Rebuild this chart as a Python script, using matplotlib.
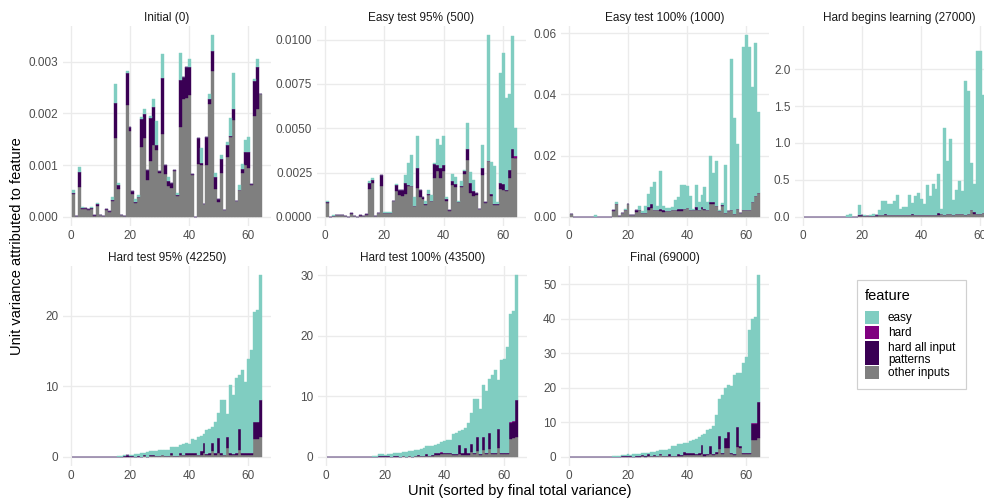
import numpy as np
import matplotlib
matplotlib.use("Agg")
import matplotlib.pyplot as plt
from matplotlib.patches import Rectangle

plt.rcParams['font.family'] = ['Liberation Sans', 'DejaVu Sans']

W, H = 984, 501
units = np.arange(1, 65)

feature_names = ['easy', 'hard', 'hard all input\npatterns', 'other inputs']
feature_colors = ['#80CDC1', '#800080', '#3A0054', '#7F7F7F']

# ---- Initial (0), values in 1e-3
init_other = [0.44, 0.02, 0.58, 0.16, 0.16, 0.13, 0.15, 0.02, 0.22, 0.03, 0.01, 0.13, 0.09, 0.31, 1.52, 0.53,
              0.04, 0.01, 2.16, 1.66, 0.45, 0.27, 0.39, 1.35, 1.52, 0.71, 1.07, 1.38, 1.29, 0.85, 1.60, 0.82,
              0.60, 0.55, 0.88, 0.40, 1.73, 2.27, 2.29, 2.36, 0.80, 0.005, 1.02, 1.00, 0.24, 1.01, 2.18, 2.81,
              0.54, 0.29, 0.84, 0.13, 1.16, 1.54, 1.87, 0.31, 0.51, 0.84, 1.00, 0.95, 0.61, 1.95, 2.09, 2.37]
init_hall = [0.03, 0, 0.29, 0.02, 0.02, 0.02, 0.02, 0.02, 0.02, 0, 0, 0.03, 0.02, 0.02, 0.67, 0.08,
             0, 0, 0.61, 0.07, 0.05, 0.02, 0, 0.54, 0.46, 0.19, 0.83, 0.74, 0.10, 0.03, 1.09, 0.18,
             0.09, 0.10, 0.03, 0.03, 0.92, 0.44, 0.60, 0.53, 0.03, 0, 0.51, 0.05, 0, 0.53, 0.10, 0.40,
             0.23, 0.05, 0.28, 0.01, 0.23, 0.03, 0.21, 0, 0.01, 0.09, 0.25, 0.30, 0.03, 0.67, 0.80, 0.01]
init_hard = [0] * 64
init_easy = [0.04, 0, 0.10, 0.01, 0, 0.01, 0.02, 0, 0.02, 0, 0, 0, 0, 0.06, 0.38, 0.05,
             0, 0, 0.04, 0, 0, 0.06, 0.04, 0.03, 0.10, 0.01, 0.04, 0.15, 0.46, 0, 0.46, 0,
             0.08, 0, 0, 0.03, 0.52, 0, 0, 0.15, 0, 0, 0, 0.28, 0.01, 0, 0.09, 0.30,
             0.08, 0, 0.08, 0, 0.06, 0.33, 0.69, 0, 0.10, 0.10, 0.23, 0.30, 0, 0.05, 0.15, 0]

# ---- Easy test 95% (500), values in 1e-3
e95_other = [0.76, 0.02, 0.06, 0.10, 0.08, 0.10, 0.06, 0.02, 0.16, 0.03, 0.02, 0.04, 0.05, 0.12, 1.55, 1.90,
             0.05, 0.20, 1.72, 0.20, 0.20, 0.20, 0.90, 1.45, 1.25, 1.20, 1.30, 1.75, 1.75, 0.60, 1.65, 1.12,
             0.99, 0.66, 1.24, 0.90, 2.21, 2.58, 2.21, 2.58, 0.90, 0.34, 1.80, 1.69, 0.82, 1.69, 2.40, 3.20,
             1.37, 1.18, 1.24, 0.43, 2.34, 0.80, 3.15, 1.18, 0.66, 0.66, 1.55, 1.50, 1.45, 2.20, 3.33, 3.33]
e95_hall = [0.06, 0, 0, 0, 0, 0, 0, 0, 0.08, 0, 0, 0.06, 0, 0.06, 0.35, 0.20,
            0, 0, 0.65, 0, 0, 0, 0, 0.35, 0.28, 0.30, 0.60, 0.05, 0.02, 0, 1.12, 0.37,
            0.15, 0.05, 0.07, 0, 0.75, 0.37, 0.56, 0.37, 0.10, 0.04, 0.22, 0.19, 0, 0.07, 0.19, 0.64,
            0.56, 0.28, 0.13, 0.04, 0.43, 0.06, 0, 0.09, 0.09, 0.09, 0.37, 0.35, 0.05, 0.45, 0.50, 0]
e95_hard = [0] * 40 + [0.02] + [0] * 22 + [0.08]
e95_easy = [0.06, 0, 0.03, 0.02, 0, 0, 0, 0, 0, 0, 0, 0, 0, 0, 0.15, 0.10,
            0, 0, 0, 0.05, 0.05, 0.05, 0, 0.08, 0, 0, 0.45, 1.25, 1.70, 0.50, 1.78, 0,
            0, 0.17, 0.19, 0.35, 0.10, 1.44, 1.31, 1.61, 0.10, 0, 0.41, 0.39, 0.06, 0.28, 0.04, 1.46,
            0.60, 0.62, 0, 0, 1.31, 0, 7.10, 1.84, 2.10, 0.10, 6.20, 7.40, 5.20, 4.30, 6.36, 1.60]

# ---- Easy test 100% (1000), values in 1e-2
e100_other = [0.08, 0.005, 0.005, 0.005, 0.005, 0.005, 0.005, 0.005, 0.01, 0.005, 0.005, 0.005, 0.005, 0.005, 0.18, 0.43,
              0.03, 0.13, 0.24, 0.41, 0.05, 0.05, 0.17, 0.22, 0.13, 0.13, 0.22, 0.29, 0.22, 0.24, 0.20, 0.17,
              0.20, 0.20, 0.22, 0.24, 0.20, 0.18, 0.26, 0.29, 0.24, 0.22, 0.24, 0.22, 0.26, 0.22, 0.24, 0.43,
              0.43, 0.35, 0.20, 0.35, 0.13, 0.20, 0.24, 0.11, 0.26, 0.13, 0.22, 0.24, 0.22, 0.50, 0.67, 0.78]
e100_hall = [0.03, 0, 0, 0, 0, 0, 0, 0, 0, 0, 0, 0, 0, 0, 0.03, 0,
             0, 0, 0, 0, 0, 0, 0.04, 0.02, 0, 0, 0.11, 0.12, 0.02, 0, 0.07, 0.07,
             0, 0, 0, 0, 0.06, 0.08, 0, 0, 0, 0, 0.07, 0, 0.07, 0.04, 0, 0.07,
             0.07, 0, 0, 0.03, 0, 0, 0, 0, 0, 0, 0, 0, 0, 0, 0, 0]
e100_hard = [0] * 64
e100_easy = [0, 0, 0, 0, 0, 0, 0, 0, 0.05, 0, 0, 0, 0, 0, 0, 0.05,
             0, 0, 0.03, 0, 0, 0, 0, 0.11, 0.05, 0.24, 0.42, 0.57, 0.89, 0.13, 1.22, 0.13,
             0.10, 0.09, 0.10, 0.32, 0.39, 0.78, 0.79, 0.73, 0.43, 0.04, 0.73, 0.26, 0.40, 0.72, 0.24, 1.50,
             0.92, 1.48, 0.02, 0.08, 1.55, 0, 4.91, 3.11, 2.13, 0, 5.33, 5.70, 5.33, 3.74, 5.02, 2.66]

# ---- Hard begins learning (27000)
hb_other = [0.005, 0.005, 0.005, 0.005, 0.005, 0.005, 0.005, 0.005, 0.005, 0.005, 0.005, 0.005, 0.005, 0.005, 0.005, 0.005,
            0.005, 0.005, 0.01, 0.01, 0.01, 0.01, 0.01, 0.01, 0.01, 0.02, 0.02, 0.02, 0.02, 0.02, 0.02, 0.02,
            0.02, 0.02, 0.02, 0.02, 0.02, 0.03, 0.02, 0.03, 0.02, 0.03, 0.03, 0.02, 0.03, 0.03, 0.04, 0.03,
            0.04, 0.04, 0.03, 0.04, 0.04, 0.04, 0.03, 0.04, 0.09, 0.04, 0.04, 0.04, 0.05, 0.05, 0.06, 0.06]
hb_hall = [0, 0, 0, 0, 0, 0, 0, 0, 0, 0, 0, 0, 0, 0, 0, 0,
           0, 0, 0.02, 0.02, 0, 0, 0, 0, 0.02, 0, 0, 0.02, 0, 0, 0, 0,
           0, 0, 0, 0, 0.02, 0, 0, 0, 0, 0, 0, 0, 0, 0.02, 0, 0,
           0, 0, 0, 0, 0, 0, 0, 0, 0, 0.02, 0, 0, 0, 0, 0, 0]
hb_hard = [0] * 64
hb_easy = [0, 0, 0, 0, 0, 0, 0, 0, 0, 0, 0, 0, 0, 0, 0.02, 0.04,
           0, 0, 0.13, 0, 0.01, 0, 0.02, 0.03, 0, 0.08, 0.19, 0.17, 0.15, 0.15, 0.19, 0.28,
           0.09, 0.11, 0.12, 0.28, 0.15, 0.25, 0.30, 0.21, 0.15, 0.40, 0.25, 0.42, 0.35, 0.53, 0.07, 1.17,
           0.71, 1.02, 0.20, 0.32, 0.45, 0.31, 1.81, 1.67, 0.64, 0.38, 2.20, 2.20, 1.60, 1.00, 2.40, 1.30]

# ---- Hard test 95% (42250)
h95_other = [0.02, 0.02, 0.02, 0.02, 0.02, 0.02, 0.02, 0.02, 0.02, 0.02, 0.02, 0.02, 0.02, 0.02, 0.02, 0.02,
             0.02, 0.05, 0.05, 0.05, 0.05, 0.05, 0.05, 0.05, 0.1, 0.05, 0.1, 0.1, 0.1, 0.1, 0.3, 0.1,
             0.1, 0.2, 0.1, 0.1, 0.3, 0.2, 0.3, 0.3, 0.3, 0.3, 0.2, 0.3, 0.5, 0.2, 0.3, 0.8,
             0.3, 0.5, 0.3, 0.2, 1.3, 0.3, 0.2, 0.3, 1.0, 0.3, 0.3, 0.3, 0.3, 2.5, 2.6, 2.8]
h95_hall = [0, 0, 0, 0, 0, 0, 0, 0, 0, 0, 0, 0, 0, 0, 0, 0,
            0, 0.1, 0.15, 0.1, 0.05, 0, 0.1, 0, 0.1, 0, 0.2, 0.15, 0, 0, 0, 0,
            0, 0.3, 0, 0, 0.3, 0.1, 0.3, 0.2, 0.3, 0.2, 0.1, 0.5, 1.5, 0.2, 0.2, 1.2,
            0.3, 2.2, 0.2, 0.1, 1.5, 0.3, 0.2, 0.2, 2.9, 0.3, 0.2, 0.3, 0.3, 2.4, 2.3, 5.3]
h95_hard = [0] * 46 + [0.1] + [0] * 14 + [0.1, 0, 0]
h95_easy = [0, 0, 0, 0, 0, 0, 0, 0, 0, 0, 0, 0, 0, 0, 0, 0.17,
            0.12, 0.05, 0.08, 0.09, 0.14, 0.37, 0.27, 0.47, 0.37, 0.66, 0.55, 0.6, 0.8, 0.84, 0.64, 0.89,
            0.89, 0.91, 1.31, 1.35, 1.15, 1.59, 1.43, 1.39, 1.95, 1.95, 2.48, 2.12, 1.3, 3.4, 3.3, 2.3,
            4.4, 3.5, 7.6, 7.8, 3.3, 9.6, 8.4, 10.7, 7.7, 11.8, 10.2, 13.3, 14.6, 15.5, 15.9, 17.7]

# ---- Hard test 100% (43500)
h100_other = [0.03, 0.03, 0.03, 0.03, 0.03, 0.03, 0.03, 0.03, 0.03, 0.03, 0.03, 0.03, 0.03, 0.03, 0.03, 0.03,
              0.03, 0.05, 0.05, 0.05, 0.05, 0.05, 0.05, 0.05, 0.05, 0.1, 0.05, 0.1, 0.05, 0.1, 0.2, 0.1,
              0.2, 0.2, 0.2, 0.2, 0.3, 0.3, 0.4, 0.4, 0.4, 0.4, 0.3, 0.3, 0.5, 0.3, 0.3, 0.3,
              0.8, 0.4, 1.0, 0.3, 1.1, 0.4, 1.3, 0.4, 0.4, 1.5, 0.4, 0.4, 0.4, 3.0, 3.1, 3.3]
h100_hall = [0, 0, 0, 0, 0, 0, 0, 0, 0, 0, 0, 0, 0, 0, 0, 0,
             0, 0.1, 0.1, 0.05, 0.1, 0, 0.1, 0.1, 0, 0.1, 0, 0.1, 0, 0, 0.1, 0,
             0, 0.3, 0, 0.1, 0.3, 0.3, 0.3, 0.3, 0.2, 0.3, 0.2, 0.1, 1.5, 0.3, 1.2, 0.3,
             1.4, 0.3, 2.3, 0.2, 2.2, 0.3, 2.7, 0.3, 0.3, 3.1, 0.3, 0.3, 0.3, 2.6, 2.6, 6.1]
h100_hard = [0] * 36 + [0.05, 0, 0.05] + [0] * 22 + [0.2, 0.2, 0]
h100_easy = [0, 0, 0, 0, 0, 0, 0, 0, 0, 0, 0, 0, 0, 0, 0.02, 0.17,
             0.17, 0.25, 0.25, 0.23, 0.4, 0.5, 0.45, 0.5, 0.65, 0.6, 0.8, 0.7, 0.88, 1.0, 0.8, 1.2,
             1.3, 1.25, 1.55, 1.45, 1.25, 1.6, 1.75, 2.0, 2.25, 2.15, 3.2, 3.6, 2.2, 3.9, 3.25, 5.0,
             5.0, 8.9, 6.3, 7.4, 8.6, 10.1, 8.8, 12.8, 13.6, 8.1, 15.3, 15.5, 17.4, 17.7, 18.1, 20.6]

# ---- Final (69000)
fin_other = [0.1, 0.1, 0.1, 0.1, 0.1, 0.1, 0.1, 0.1, 0.1, 0.1, 0.1, 0.1, 0.1, 0.1, 0.1, 0.1,
             0.1, 0.1, 0.1, 0.1, 0.1, 0.1, 0.1, 0.1, 0.2, 0.1, 0.2, 0.2, 0.2, 0.2, 0.5, 0.2,
             0.3, 0.3, 0.2, 0.3, 0.4, 0.3, 0.6, 0.5, 0.6, 0.5, 0.6, 0.6, 0.8, 0.4, 0.5, 0.9,
             0.5, 0.8, 2.2, 0.8, 2.5, 2.5, 0.8, 0.6, 3.0, 2.5, 0.8, 0.8, 0.8, 4.8, 5.0, 5.5]
fin_hall = [0, 0, 0, 0, 0, 0, 0, 0, 0, 0, 0, 0, 0, 0, 0, 0,
            0, 0.3, 0.3, 0.3, 0.3, 0, 0.2, 0.3, 0.3, 0.3, 0.5, 0.2, 0.3, 0, 0.2, 0,
            0, 0.5, 0.1, 0, 0.3, 0.3, 0.7, 0.6, 0.6, 0.5, 0.2, 0.6, 2.6, 0.3, 0.3, 2.3,
            0.3, 0.5, 3.8, 0.3, 3.0, 4.6, 0.3, 0.3, 5.7, 0.8, 0.3, 0.3, 0.3, 4.7, 4.6, 10.3]
fin_hard = [0] * 24 + [0.1] + [0] * 36 + [0.3, 0.2, 0]
fin_easy = [0, 0, 0, 0, 0, 0, 0, 0, 0, 0, 0, 0, 0, 0, 0.2, 0.3,
            0.3, 0.1, 0.2, 0.3, 0.27, 0.67, 0.5, 0.56, 0.5, 0.75, 0.45, 1.0, 0.9, 1.4, 1.2, 1.7,
            1.8, 1.6, 2.8, 3.0, 2.9, 3.2, 2.7, 2.9, 3.3, 3.8, 4.5, 4.6, 3.0, 6.0, 6.9, 4.9,
            8.0, 10.9, 10.7, 16.9, 14.4, 13.6, 19.3, 22.9, 15.5, 21.1, 26.0, 27.7, 35.6, 30.2, 30.6, 36.8]

panel_titles = ['Initial (0)', 'Easy test 95% (500)', 'Easy test 100% (1000)', 'Hard begins learning (27000)',
                'Hard test 95% (42250)', 'Hard test 100% (43500)', 'Final (69000)']
panel_scales = [1e-3, 1e-3, 1e-2, 1, 1, 1, 1]
panel_ticks = [[0, 0.001, 0.002, 0.003], [0, 0.0025, 0.005, 0.0075, 0.01], [0, 0.02, 0.04, 0.06],
               [0, 0.5, 1.0, 1.5, 2.0], [0, 10, 20], [0, 10, 20, 30], [0, 10, 20, 30, 40, 50]]
panel_fmt = ['%.3f', '%.4f', '%.2f', '%.1f', '%.0f', '%.0f', '%.0f']
panel_data = [
    (init_other, init_hall, init_hard, init_easy),
    (e95_other, e95_hall, e95_hard, e95_easy),
    (e100_other, e100_hall, e100_hard, e100_easy),
    (hb_other, hb_hall, hb_hard, hb_easy),
    (h95_other, h95_hall, h95_hard, h95_easy),
    (h100_other, h100_hall, h100_hard, h100_easy),
    (fin_other, fin_hall, fin_hard, fin_easy),
]
# panel boxes in pixels: left, top, right, bottom
panel_px = [(63, 26, 271, 226), (317, 26, 526, 226), (561, 26, 769, 226), (795, 26, 1003, 226),
            (63, 266, 271, 466), (318, 266, 527, 466), (561, 266, 769, 466)]

fig = plt.figure(figsize=(W / 96, H / 96), dpi=96)

for i in range(7):
    l, t, r, b = panel_px[i]
    ax = fig.add_axes([l / W, 1 - b / H, (r - l) / W, (b - t) / H])
    other, hall, hard, easy = [np.array(s) * panel_scales[i] for s in panel_data[i]]
    bottom = np.zeros(64)
    for vals, col in [(other, feature_colors[3]), (hall, feature_colors[2]),
                      (hard, feature_colors[1]), (easy, feature_colors[0])]:
        ax.bar(units, vals, width=1.0, bottom=bottom, color=col, edgecolor=col, linewidth=0.3)
        bottom = bottom + vals
    ymax = bottom.max()
    ax.set_ylim(-0.05 * ymax, 1.05 * ymax)
    ax.set_xlim(-2.65, 67.65)
    ax.set_xticks([0, 20, 40, 60])
    ax.set_yticks(panel_ticks[i])
    ax.set_yticklabels([panel_fmt[i] % v for v in panel_ticks[i]])
    ax.grid(True, color='#EBEBEB', linewidth=1.0)
    ax.set_axisbelow(True)
    for s in ax.spines.values():
        s.set_visible(False)
    ax.tick_params(length=0, labelsize=8.8, colors='#4D4D4D')
    ax.tick_params(axis='x', pad=3)
    ax.tick_params(axis='y', pad=3.5)
    ax.set_title(panel_titles[i], fontsize=8.8, color='#1A1A1A', pad=4)

fig.text(520 / W, 1 - 491 / H, 'Unit (sorted by final total variance)', ha='center', va='center', fontsize=11)
fig.text(17 / W, 1 - 246 / H, 'Unit variance attributed to feature', ha='center', va='center',
         rotation=90, fontsize=11)

# legend
lax = fig.add_axes([856 / W, 1 - 389 / H, 110 / W, 110 / H])
lax.set_xlim(856, 966)
lax.set_ylim(389, 279)
lax.axis('off')
lax.add_patch(Rectangle((856.5, 279.5), 109, 109, fill=False, edgecolor='#D0D0D0',
                        linewidth=0.9, clip_on=False))
lax.text(865, 296, 'feature', fontsize=11, va='center', ha='left')
key_rows = [(311, 325), (326, 340), (341, 366), (366, 380)]
for (y0, y1), name, col in zip(key_rows, feature_names, feature_colors):
    lax.add_patch(Rectangle((865, y0), 14, y1 - y0 - 1, facecolor=col, edgecolor='none'))
    lax.text(888, (y0 + y1) / 2, name, fontsize=8.8, va='center', ha='left', linespacing=1.0)

fig.savefig('out.png', dpi=96)
